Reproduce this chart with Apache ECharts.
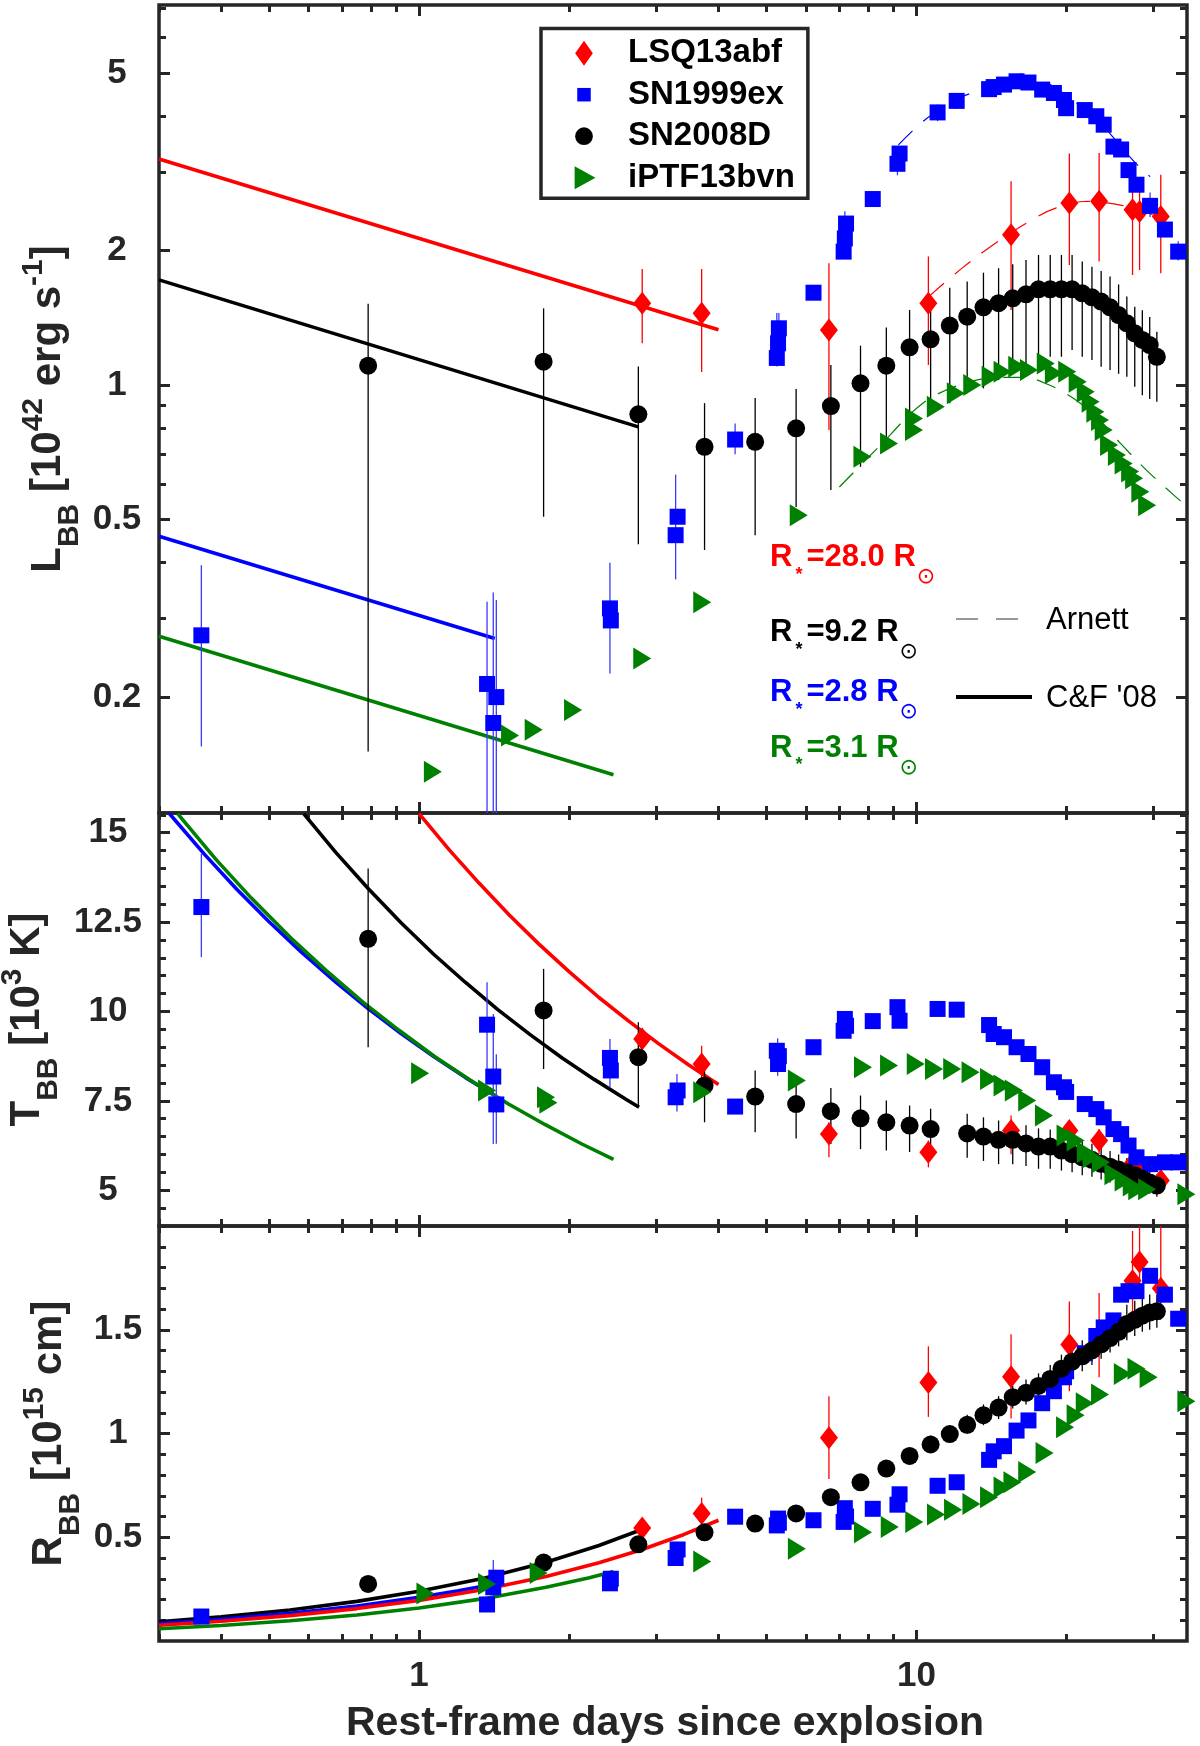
<!DOCTYPE html>
<html><head><meta charset="utf-8">
<script src="https://cdn.jsdelivr.net/npm/echarts@6/dist/echarts.min.js"></script>
<style>html,body{margin:0;padding:0;background:#fff}#c{width:1200px;height:1746px}</style>
</head><body><div id="c"></div>
<script>
// ---------------- tick values ----------------
const xMajorTicks = [1, 10];
const xMinorTicks = [0.3, 0.4, 0.5, 0.6, 0.7, 0.8, 0.9, 2, 3, 4, 5, 6, 7, 8, 9, 20, 30];
const lumMajorTicks = [0.2, 0.5, 1, 2, 5];
const lumMinorTicks = [0.3, 0.4, 0.6, 0.7, 0.8, 0.9, 3, 4, 6, 7];
const tempMajorTicks = [5, 7.5, 10, 12.5, 15];
const tempMinorTicks = [4, 4.5, 5.5, 6, 6.5, 7, 8, 8.5, 9, 9.5, 10.5, 11, 11.5, 12, 13, 13.5, 14, 14.5, 15.5];
const radMajorTicks = [0.5, 1, 1.5];
const radMinorTicks = [0.1, 0.2, 0.3, 0.4, 0.6, 0.7, 0.8, 0.9, 1.1, 1.2, 1.3, 1.4, 1.6, 1.7, 1.8, 1.9];

// ---------------- LSQ13abf ----------------
const lsqDays = [2.81, 3.70, 6.67, 10.57, 15.5, 20.3, 23.3, 27.2, 28.1, 31.0];
const lsqL   = [1.525, 1.448, 1.328, 1.525, 2.17, 2.556, 2.58, 2.47, 2.446, 2.385];
const lsqLlo = [1.24, 1.07, 0.793, 1.109, 1.473, 1.858, 1.89, 1.764, 1.81, 1.78];
const lsqLhi = [1.82, 1.82, 1.874, 1.941, 2.86, 3.30, 3.31, 2.91, 2.75, 2.96];
const lsqT   = [9.23, 8.53, 6.57, 6.06, 6.67, 6.67, 6.39, 5.75, 5.69, 5.27];
const lsqTlo = [8.95, 7.97, 5.92, 5.64, 6.01, 6.20, 6.01, 5.45, 5.40, 5.00];
const lsqThi = [9.46, 9.04, 6.90, 6.39, 7.09, 6.95, 6.71, 6.05, 6.00, 5.55];
const lsqR   = [0.544, 0.615, 0.980, 1.246, 1.274, 1.429, 1.462, 1.736, 1.827, 1.70];
const lsqRlo = [0.49, 0.54, 0.781, 1.08, 1.072, 1.204, 1.271, 1.50, 1.65, 1.55];
const lsqRhi = [0.59, 0.69, 1.18, 1.42, 1.478, 1.636, 1.677, 1.976, 2.0, 2.0];

// ---------------- SN1999ex ----------------
const sn99Days = [0.365, 1.37, 1.41, 1.43, 2.42, 2.43, 3.28, 3.31, 4.32, 5.24, 5.27, 5.29, 6.21, 7.14, 7.18, 7.22, 8.17, 9.16, 9.25, 11.03, 12.05, 14.0, 14.3, 15.0, 15.9, 16.8, 17.9, 18.9, 19.8, 20.0, 21.8, 23.0, 23.8, 24.9, 25.8, 26.7, 27.7, 29.5, 31.6, 33.6];
const sn99L = [0.275, 0.214, 0.175, 0.200, 0.316, 0.297, 0.461, 0.507, 0.755, 1.15, 1.24, 1.34, 1.61, 1.99, 2.13, 2.30, 2.61, 3.13, 3.30, 4.08, 4.33, 4.60, 4.65, 4.71, 4.79, 4.76, 4.59, 4.51, 4.35, 4.17, 4.13, 4.00, 3.83, 3.42, 3.37, 3.03, 2.81, 2.52, 2.23, 1.99];
const sn99T = [12.92, 9.63, 8.18, 7.40, 8.70, 8.35, 7.60, 7.79, 7.34, 8.90, 8.53, 8.75, 9.00, 9.46, 9.79, 9.60, 9.73, 10.12, 9.74, 10.07, 10.05, 9.62, 9.37, 9.28, 9.00, 8.81, 8.44, 8.02, 7.88, 7.75, 7.41, 7.27, 7.04, 6.71, 6.57, 6.25, 5.92, 5.73, 5.78, 5.78];
const sn99R = [0.118, 0.176, 0.259, 0.305, 0.278, 0.30, 0.40, 0.441, 0.599, 0.557, 0.59, 0.57, 0.582, 0.574, 0.64, 0.60, 0.637, 0.657, 0.707, 0.748, 0.765, 0.873, 0.914, 0.939, 1.014, 1.063, 1.146, 1.204, 1.271, 1.30, 1.387, 1.470, 1.511, 1.545, 1.669, 1.686, 1.686, 1.76, 1.669, 1.553];
const sn99LerrDays = [0.365, 1.37, 1.41, 1.43, 2.42, 3.28, 4.32, 5.24, 5.29, 7.18, 9.16, 11.03, 12.05, 16.2, 29.5, 33.6];
const sn99Llo = [0.155, 0.10, 0.10, 0.10, 0.226, 0.367, 0.70, 1.10, 1.25, 1.95, 2.95, 3.90, 4.15, 4.60, 2.38, 1.90];
const sn99Lhi = [0.395, 0.327, 0.343, 0.33, 0.40, 0.63, 0.82, 1.45, 1.45, 2.45, 3.35, 4.25, 4.50, 5.00, 2.70, 2.10];
const sn99TerrDays = [0.365, 1.37, 1.41, 1.43, 2.42, 3.30, 5.26];
const sn99Tlo = [11.52, 8.40, 6.29, 6.30, 7.88, 7.20, 8.20];
const sn99Thi = [14.41, 10.82, 9.93, 8.80, 9.23, 8.25, 9.25];
const sn99RerrDays = [1.41, 3.31, 5.27];
const sn99Rlo = [0.17, 0.38, 0.55];
const sn99Rhi = [0.39, 0.47, 0.61];

// ---------------- SN2008D ----------------
const sn08Days = [0.79, 1.78, 2.76, 3.75, 4.74, 5.73, 6.73, 7.72, 8.70, 9.69, 10.68, 11.67, 12.65, 13.64, 14.63, 15.62, 16.61, 17.60, 18.58, 19.57, 20.56, 21.55, 22.54, 23.52, 24.51, 25.50, 26.49, 27.48, 28.46, 29.45, 30.44];
const sn08L   = [1.105, 1.128, 0.86, 0.727, 0.746, 0.80, 0.897, 1.009, 1.105, 1.215, 1.266, 1.359, 1.423, 1.493, 1.525, 1.564, 1.597, 1.638, 1.638, 1.638, 1.638, 1.605, 1.572, 1.538, 1.493, 1.435, 1.375, 1.306, 1.262, 1.229, 1.157];
const sn08Llo = [0.151, 0.507, 0.44, 0.427, 0.461, 0.533, 0.582, 0.656, 0.715, 0.779, 0.857, 0.91, 0.958, 0.983, 1.026, 1.062, 1.099, 1.138, 1.157, 1.157, 1.198, 1.157, 1.138, 1.099, 1.08, 1.06, 1.043, 0.991, 0.949, 0.93, 0.917];
const sn08Lhi = [1.52, 1.485, 1.10, 0.911, 0.935, 0.98, 1.109, 1.225, 1.345, 1.473, 1.538, 1.652, 1.705, 1.785, 1.827, 1.865, 1.906, 1.956, 1.956, 1.956, 1.956, 1.89, 1.84, 1.80, 1.75, 1.68, 1.578, 1.498, 1.47, 1.42, 1.316];
const sn08T   = [12.03, 10.03, 8.72, 7.93, 7.62, 7.41, 7.21, 7.01, 6.90, 6.81, 6.71, null, 6.59, 6.50, 6.41, 6.41, 6.31, 6.22, 6.22, 6.11, 6.01, 5.92, 5.85, 5.74, 5.66, 5.58, 5.50, 5.42, 5.32, 5.22, 5.13];
const sn08Tlo = [9.0, 8.39, 7.37, 6.90, 6.62, 6.45, 6.29, 6.15, 6.11, 6.07, 5.93, null, 5.91, 5.82, 5.73, 5.73, 5.68, 5.60, 5.60, 5.55, 5.50, 5.42, 5.38, 5.30, 5.22, 5.15, 5.10, 5.05, 4.95, 4.90, 4.82];
const sn08Thi = [14.0, 11.19, 9.70, 8.72, 8.35, 8.20, 7.86, 7.65, 7.51, 7.37, 7.28, null, 7.14, 7.04, 6.95, 6.91, 6.82, 6.73, 6.70, 6.60, 6.50, 6.40, 6.30, 6.20, 6.10, 6.00, 5.90, 5.80, 5.70, 5.55, 5.45];
const sn08R   = [0.275, 0.378, 0.466, 0.524, 0.566, 0.615, 0.693, 0.765, 0.831, 0.892, 0.947, 0.997, 1.042, 1.088, 1.125, 1.175, 1.196, 1.229, 1.263, 1.312, 1.346, 1.372, 1.40, 1.43, 1.46, 1.49, 1.528, 1.548, 1.568, 1.583, 1.589];
const sn08Rlo = [0.26, 0.365, 0.45, 0.505, 0.545, 0.595, 0.67, 0.74, 0.80, 0.86, 0.91, 0.96, 1.0, 1.04, 1.07, 1.12, 1.14, 1.17, 1.2, 1.25, 1.28, 1.3, 1.33, 1.36, 1.39, 1.42, 1.45, 1.47, 1.49, 1.5, 1.51];
const sn08Rhi = [0.29, 0.392, 0.485, 0.545, 0.59, 0.64, 0.72, 0.79, 0.865, 0.93, 0.99, 1.04, 1.09, 1.14, 1.18, 1.23, 1.26, 1.29, 1.33, 1.38, 1.42, 1.45, 1.48, 1.51, 1.55, 1.58, 1.62, 1.64, 1.66, 1.67, 1.67];

// ---------------- iPTF13bvn ----------------
const ptfDaysL = [1.066, 1.524, 1.70, 2.04, 2.81, 3.71, 5.80, 7.79, 8.81, 9.89, 9.89, 10.94, 12.0, 12.95, 14.1, 14.9, 15.95, 16.84, 18.2, 18.9, 20.1, 21.1, 21.9, 22.4, 22.9, 23.4, 23.8, 24.4, 25.3, 26.1, 26.9, 27.4, 28.2, 29.1];
const ptfL = [0.136, 0.164, 0.169, 0.187, 0.244, 0.326, 0.511, 0.691, 0.740, 0.793, 0.842, 0.894, 0.958, 1.0, 1.044, 1.071, 1.099, 1.08, 1.118, 1.062, 1.071, 1.017, 0.966, 0.917, 0.871, 0.835, 0.793, 0.734, 0.697, 0.667, 0.64, 0.618, 0.577, 0.538];
const ptfDaysT = [1.005, 1.37, 1.80, 1.82, 3.71, 5.75, 7.81, 8.81, 9.97, 10.85, 11.8, 12.85, 14.0, 14.9, 15.7, 16.7, 18.05, 19.95, 20.9, 21.9, 22.5, 23.5, 24.9, 26.1, 27.1, 27.8, 29.1, 34.9];
const ptfT = [8.27, 7.79, 7.60, 7.45, 7.74, 8.07, 8.44, 8.49, 8.53, 8.39, 8.39, 8.30, 8.11, 7.93, 7.79, 7.51, 7.09, 6.53, 6.39, 6.06, 5.92, 5.78, 5.45, 5.27, 5.13, 5.03, 5.03, 4.89];
const ptfDaysR = [1.03, 1.37, 1.74, 3.71, 5.75, 7.81, 8.84, 9.9, 10.95, 11.85, 12.9, 14.0, 14.9, 15.6, 16.7, 18.1, 19.9, 20.9, 21.8, 23.4, 26.0, 27.7, 29.3, 34.9];
const ptfR = [0.229, 0.275, 0.328, 0.383, 0.444, 0.524, 0.549, 0.574, 0.610, 0.632, 0.660, 0.693, 0.740, 0.765, 0.815, 0.906, 1.030, 1.088, 1.146, 1.188, 1.287, 1.312, 1.271, 1.155];

// ---------------- Arnett model curves (luminosity) ----------------
const arnBlueDays = [9.2, 10.5, 12.4, 13.6, 15, 16.5, 18, 19.5, 21.2, 23, 24.6, 26.5, 28, 29.5];
const arnBlueL    = [3.45, 3.96, 4.43, 4.58, 4.75, 4.83, 4.78, 4.55, 4.24, 3.95, 3.64, 3.30, 3.09, 2.93];
const arnRedDays  = [10.6, 12.37, 14.25, 16.8, 19.05, 22.2, 25.7, 28.5, 31.7];
const arnRedL     = [1.58, 1.83, 2.06, 2.32, 2.49, 2.58, 2.53, 2.45, 2.34];
const arnGreenDays = [7.0, 8.4, 10.3, 12.2, 14.5, 16.5, 18.5, 20.5, 23, 25.7, 29, 33.1, 35];
const arnGreenL    = [0.591, 0.727, 0.91, 1.0, 1.04, 1.04, 1.0, 0.94, 0.85, 0.741, 0.645, 0.564, 0.535];

// ---------------- C&F '08 cooling curves ----------------
const cfRedLDays = [0.3, 4.0],   cfRedL = [3.21, 1.33];
const cfBlackLDays = [0.3, 2.76], cfBlackL = [1.72, 0.806];
const cfBlueLDays = [0.3, 1.42],  cfBlueL = [0.4585, 0.2705];
const cfGreenLDays = [0.3, 2.46], cfGreenL = [0.2736, 0.134];

const cfRedTDays = [1.0, 1.15, 1.32, 1.52, 1.74, 2.0, 2.3, 2.64, 3.03, 3.48, 4.0];
const cfRedT     = [15.53, 14.52, 13.59, 12.69, 11.89, 11.12, 10.39, 9.73, 9.10, 8.51, 7.96];
const cfBlackTDays = [0.586, 0.68, 0.79, 0.92, 1.07, 1.24, 1.44, 1.67, 1.94, 2.25, 2.6, 2.77];
const cfBlackT     = [15.53, 14.45, 13.44, 12.48, 11.60, 10.81, 10.05, 9.36, 8.70, 8.10, 7.55, 7.32];
const cfBlueTDays = [0.315, 0.37, 0.43, 0.5, 0.58, 0.68, 0.79, 0.92, 1.07, 1.24, 1.42];
const cfBlueT     = [15.53, 14.40, 13.42, 12.50, 11.66, 10.82, 10.08, 9.38, 8.74, 8.15, 7.65];
const cfGreenTDays = [0.327, 0.39, 0.46, 0.55, 0.65, 0.77, 0.91, 1.08, 1.28, 1.51, 1.79, 2.12, 2.46];
const cfGreenT     = [15.53, 14.26, 13.17, 12.08, 11.15, 10.27, 9.48, 8.72, 8.04, 7.42, 6.84, 6.30, 5.86];

const cfBlackRDays = [0.3, 0.4, 0.55, 0.75, 1.0, 1.35, 1.8, 2.3, 2.77];
const cfBlackR     = [0.093, 0.1166, 0.1497, 0.1909, 0.2393, 0.3029, 0.3796, 0.4602, 0.5324];
const cfBlueRDays = [0.3, 0.4, 0.55, 0.75, 1.0, 1.2, 1.42];
const cfBlueR     = [0.084, 0.1046, 0.1334, 0.1690, 0.2105, 0.2419, 0.2751];
const cfRedRDays = [0.3, 0.4, 0.55, 0.75, 1.0, 1.35, 1.8, 2.3, 2.8, 3.4, 4.0];
const cfRedR     = [0.076, 0.0953, 0.1224, 0.1562, 0.1958, 0.2479, 0.3108, 0.3768, 0.4398, 0.5123, 0.5821];
const cfGreenRDays = [0.3, 0.4, 0.55, 0.75, 1.0, 1.35, 1.8, 2.2, 2.46];
const cfGreenR     = [0.059, 0.0748, 0.0973, 0.1256, 0.1593, 0.2041, 0.2587, 0.3053, 0.3348];

// ---------------- build ----------------
const FF = "'Liberation Sans', Arial, Helvetica, sans-serif";
const AX = '#262626';
const C = {red: '#ff0000', blue: '#0000ff', black: '#000000', green: '#008000'};
const lg = Math.log10;
const fmt = v => String(parseFloat(v.toPrecision(6)));
const X_MIN = 0.3, X_MAX = 35;
const YR = [[0.11, 7.1], [4, 15.55], [0, 2]];
const isLogY = [true, false, false];

const grids = [
  {left: 159, top: 5, width: 1028, height: 808},
  {left: 159, top: 813, width: 1028, height: 413},
  {left: 159, top: 1226, width: 1028, height: 415}
].map(g => Object.assign(g, {show: true, borderColor: AX, borderWidth: 3.5, backgroundColor: 'transparent', containLabel: false, outerBoundsMode: 'none'}));

const xAxes = [], yAxes = [];
const DX = [], DY = [];
const tickLine = {color: AX, width: 3};
const labelBase = {show: true, fontSize: 35, fontWeight: 'bold', color: AX, fontFamily: FF};

function tickAxis(list, g, pos, min, max, ticks, len, extra) {
  const ax = Object.assign({
    type: 'value', gridIndex: g, position: pos, min: min, max: max,
    axisLine: {show: false, onZero: false},
    splitLine: {show: false}, splitArea: {show: false},
    minorTick: {show: false}, minorSplitLine: {show: false},
    axisTick: {show: true, inside: true, length: len, customValues: ticks, lineStyle: tickLine},
    axisLabel: {show: false},
    nameMoveOverlap: false, silent: true
  }, extra || {});
  list.push(ax);
  return list.length - 1;
}

const yNames = [
  '{m|L}{s|BB}{m| [10}{p|42}{m| erg s}{p|-1}{m|]}',
  '{m|T}{s|BB}{m| [10}{p|3}{m| K]}',
  '{m|R}{s|BB}{m| [10}{p|15}{m| cm]}'
];
const yNameGap = [74, 95, 73];
const yLabelMargin = [42, 51, 41];
const nameRich = {
  m: {fontSize: 42, fontWeight: 'bold', fontFamily: FF, color: AX, verticalAlign: 'top', padding: [8, 0, 0, 0]},
  s: {fontSize: 30, fontWeight: 'bold', fontFamily: FF, color: AX, verticalAlign: 'top', padding: [36, 0, 0, 0]},
  p: {fontSize: 30, fontWeight: 'bold', fontFamily: FF, color: AX, verticalAlign: 'top', padding: [0, 0, 0, 0]}
};

const yMajor = [lumMajorTicks, tempMajorTicks, radMajorTicks];
const yMinor = [lumMinorTicks, tempMinorTicks, radMinorTicks];

for (let g = 0; g < 3; g++) {
  xAxes.push({type: 'log', logBase: 10, gridIndex: g, min: X_MIN, max: X_MAX, show: false, axisLine: {onZero: false}, splitLine: {show: false}});
  DX[g] = xAxes.length - 1;
  const yr = YR[g];
  if (isLogY[g]) {
    yAxes.push({type: 'log', logBase: 10, gridIndex: g, min: yr[0], max: yr[1], show: false, axisLine: {onZero: false}, splitLine: {show: false}});
  } else {
    yAxes.push({type: 'value', gridIndex: g, min: yr[0], max: yr[1], show: false, axisLine: {onZero: false}, splitLine: {show: false}});
  }
  DY[g] = yAxes.length - 1;

  const xmn = lg(X_MIN), xmx = lg(X_MAX);
  tickAxis(xAxes, g, 'bottom', xmn, xmx, xMajorTicks.map(lg), 11, g === 2 ? {
    axisLabel: Object.assign({}, labelBase, {customValues: xMajorTicks.map(lg), formatter: v => fmt(Math.pow(10, v)), margin: 18})
  } : null);
  tickAxis(xAxes, g, 'bottom', xmn, xmx, xMinorTicks.map(lg), 7, g === 2 ? {
    name: 'Rest-frame days since explosion', nameLocation: 'middle', nameGap: 62,
    nameTextStyle: {fontSize: 41, fontWeight: 'bold', color: AX, fontFamily: FF, padding: [0, 16, 0, 0]}
  } : null);
  tickAxis(xAxes, g, 'top', xmn, xmx, xMajorTicks.map(lg), 11);
  tickAxis(xAxes, g, 'top', xmn, xmx, xMinorTicks.map(lg), 7);

  const tr = isLogY[g] ? (a => a.map(lg)) : (a => a.slice());
  const ymn = isLogY[g] ? lg(yr[0]) : yr[0];
  const ymx = isLogY[g] ? lg(yr[1]) : yr[1];
  const lblFmt = isLogY[g] ? (v => fmt(Math.pow(10, v))) : (v => fmt(v));
  tickAxis(yAxes, g, 'left', ymn, ymx, tr(yMajor[g]), 11, {
    axisLabel: Object.assign({}, labelBase, {customValues: tr(yMajor[g]), formatter: lblFmt, align: 'center', verticalAlign: 'middle', margin: yLabelMargin[g]})
  });
  tickAxis(yAxes, g, 'left', ymn, ymx, tr(yMinor[g]), 7, {
    name: yNames[g], nameLocation: 'middle', nameRotate: 90, nameGap: yNameGap[g],
    nameTextStyle: {fontFamily: FF, color: AX, rich: nameRich}
  });
  tickAxis(yAxes, g, 'right', ymn, ymx, tr(yMajor[g]), 11);
  tickAxis(yAxes, g, 'right', ymn, ymx, tr(yMinor[g]), 7);
}

function pairs(xs, ys) {
  const out = [];
  xs.forEach((x, i) => { if (ys[i] != null) out.push([x, ys[i]]); });
  return out;
}
function errRender(params, api) {
  const x = api.value(0);
  const a = api.coord([x, api.value(1)]);
  const b = api.coord([x, api.value(2)]);
  return {type: 'line', shape: {x1: a[0], y1: a[1], x2: b[0], y2: b[1]},
          style: {stroke: api.visual('color'), lineWidth: 1.3}};
}
const series = [];
function addLine(g, xs, ys, color, width, dash, smooth) {
  series.push({type: 'line', xAxisIndex: DX[g], yAxisIndex: DY[g], data: pairs(xs, ys),
    showSymbol: false, symbol: 'none', smooth: smooth ? 0.35 : false, clip: true, z: 1, silent: true,
    lineStyle: {color: color, width: width, type: dash || 'solid'}, itemStyle: {color: color}});
}
function addErr(g, name, xs, lo, hi, color) {
  const data = [];
  xs.forEach((x, i) => { if (lo[i] != null && hi[i] != null) data.push([x, lo[i], hi[i]]); });
  series.push({type: 'custom', name: name + ' errors', xAxisIndex: DX[g], yAxisIndex: DY[g], data: data,
    renderItem: errRender, clip: true, z: 2, silent: true, itemStyle: {color: color}, encode: {x: 0, y: [1, 2]}});
}
const MK = {
  lsq: {symbol: 'diamond', symbolSize: [18, 23], color: C.red, name: 'LSQ13abf'},
  sn99: {symbol: 'rect', symbolSize: [16, 16], color: C.blue, name: 'SN1999ex'},
  sn08: {symbol: 'circle', symbolSize: [18, 18], color: C.black, name: 'SN2008D'},
  ptf: {symbol: 'path://M0,0L18,11L0,22Z', symbolSize: [18, 22], color: C.green, name: 'iPTF13bvn'}
};
function addScatter(g, mk, xs, ys) {
  series.push({type: 'scatter', name: mk.name, xAxisIndex: DX[g], yAxisIndex: DY[g], data: pairs(xs, ys),
    symbol: mk.symbol, symbolSize: mk.symbolSize, itemStyle: {color: mk.color, opacity: 1}, z: 3, silent: true, clip: true});
}

const DASH = [20, 14];
// ---- panel 0: luminosity ----
addLine(0, cfRedLDays, cfRedL, C.red, 3.6);
addLine(0, cfBlackLDays, cfBlackL, C.black, 3.6);
addLine(0, cfBlueLDays, cfBlueL, C.blue, 3.6);
addLine(0, cfGreenLDays, cfGreenL, C.green, 3.6);
addLine(0, arnBlueDays, arnBlueL, C.blue, 1.2, DASH, true);
addLine(0, arnRedDays, arnRedL, C.red, 1.2, DASH, true);
addLine(0, arnGreenDays, arnGreenL, C.green, 1.2, DASH, true);
addErr(0, 'LSQ13abf', lsqDays, lsqLlo, lsqLhi, C.red);
addErr(0, 'SN1999ex', sn99LerrDays, sn99Llo, sn99Lhi, '#3a3aff');
addErr(0, 'SN2008D', sn08Days, sn08Llo, sn08Lhi, C.black);
addScatter(0, MK.lsq, lsqDays, lsqL);
addScatter(0, MK.sn99, sn99Days, sn99L);
addScatter(0, MK.sn08, sn08Days, sn08L);
addScatter(0, MK.ptf, ptfDaysL, ptfL);
// ---- panel 1: temperature ----
addLine(1, cfRedTDays, cfRedT, C.red, 3.6);
addLine(1, cfBlackTDays, cfBlackT, C.black, 3.6);
addLine(1, cfBlueTDays, cfBlueT, C.blue, 3.6);
addLine(1, cfGreenTDays, cfGreenT, C.green, 3.6);
addErr(1, 'LSQ13abf', lsqDays, lsqTlo, lsqThi, C.red);
addErr(1, 'SN1999ex', sn99TerrDays, sn99Tlo, sn99Thi, '#3a3aff');
addErr(1, 'SN2008D', sn08Days, sn08Tlo, sn08Thi, C.black);
addScatter(1, MK.lsq, lsqDays, lsqT);
addScatter(1, MK.sn99, sn99Days, sn99T);
addScatter(1, MK.sn08, sn08Days, sn08T);
addScatter(1, MK.ptf, ptfDaysT, ptfT);
// ---- panel 2: radius ----
addLine(2, cfBlackRDays, cfBlackR, C.black, 3.6);
addLine(2, cfBlueRDays, cfBlueR, C.blue, 3.6);
addLine(2, cfRedRDays, cfRedR, C.red, 3.6);
addLine(2, cfGreenRDays, cfGreenR, C.green, 3.6);
addErr(2, 'LSQ13abf', lsqDays, lsqRlo, lsqRhi, C.red);
addErr(2, 'SN1999ex', sn99RerrDays, sn99Rlo, sn99Rhi, '#3a3aff');
addErr(2, 'SN2008D', sn08Days, sn08Rlo, sn08Rhi, C.black);
addScatter(2, MK.lsq, lsqDays, lsqR);
addScatter(2, MK.sn99, sn99Days, sn99R);
addScatter(2, MK.sn08, sn08Days, sn08R);
addScatter(2, MK.ptf, ptfDaysR, ptfR);

const ICON = {
  diamond: 'path://M-12.5,-12.5M12.5,12.5M0,-12L8.5,0L0,12L-8.5,0Z',
  square: 'path://M-12.5,-12.5M12.5,12.5M-6.5,-6.5L6.5,-6.5L6.5,6.5L-6.5,6.5Z',
  circle: 'path://M-12.5,-12.5M12.5,12.5M8.5,0A8.5,8.5,0,1,1,-8.5,0A8.5,8.5,0,1,1,8.5,0Z',
  tri: 'path://M-12.5,-12.5M12.5,12.5M-9,-11L11,0L-9,11Z'
};

function rRich(col) {
  return {
    m: {fontSize: 31, fontWeight: 'bold', fontFamily: FF, fill: col, color: col, verticalAlign: 'top'},
    a: {fontSize: 18, fontWeight: 'bold', fontFamily: FF, fill: col, color: col, verticalAlign: 'top', padding: [23.5, 4, 0, 3]},
    o: {fontSize: 22, fontFamily: "'DejaVu Sans', sans-serif", fill: col, color: col, verticalAlign: 'top', padding: [24, 0, 0, 1]}
  };
}
const radiusLabels = [
  {text: '{m|R}{a|*}{m|=28.0 R}{o|⊙}', color: C.red, y: 542.4},
  {text: '{m|R}{a|*}{m|=9.2 R}{o|⊙}', color: C.black, y: 617.4},
  {text: '{m|R}{a|*}{m|=2.8 R}{o|⊙}', color: C.blue, y: 677.4},
  {text: '{m|R}{a|*}{m|=3.1 R}{o|⊙}', color: C.green, y: 733}
];
const graphics = radiusLabels.map(r => ({
  type: 'text', x: 770, y: r.y, z: 50, silent: true,
  style: {text: r.text, rich: rRich(r.color), align: 'left', verticalAlign: 'top', fill: r.color}
}));
graphics.push(
  {type: 'line', z: 50, silent: true, shape: {x1: 956, y1: 619, x2: 1032, y2: 619}, style: {stroke: '#333', lineWidth: 1.2, lineDash: [22, 18]}},
  {type: 'text', z: 50, silent: true, x: 1046, y: 620, style: {text: 'Arnett', fontSize: 31, fontFamily: FF, fill: '#000', align: 'left', verticalAlign: 'middle'}},
  {type: 'line', z: 50, silent: true, shape: {x1: 956, y1: 697, x2: 1032, y2: 697}, style: {stroke: '#000', lineWidth: 4}},
  {type: 'text', z: 50, silent: true, x: 1046, y: 698, style: {text: "C&F '08", fontSize: 31, fontFamily: FF, fill: '#000', align: 'left', verticalAlign: 'middle'}}
);

const option = {
  animation: false,
  backgroundColor: '#ffffff',
  textStyle: {fontFamily: FF},
  grid: grids,
  xAxis: xAxes,
  yAxis: yAxes,
  legend: {
    show: true, orient: 'vertical', left: 541, top: 28.5,
    itemWidth: 78, itemHeight: 26, itemGap: 8.5,
    padding: [8.2, 13, 4, 30],
    backgroundColor: '#ffffff', borderColor: AX, borderWidth: 3.5, borderRadius: 0,
    selectedMode: false,
    textStyle: {fontSize: 33, fontWeight: 'bold', color: '#000', fontFamily: FF, lineHeight: 30},
    data: [
      {name: 'LSQ13abf', icon: ICON.diamond},
      {name: 'SN1999ex', icon: ICON.square},
      {name: 'SN2008D', icon: ICON.circle},
      {name: 'iPTF13bvn', icon: ICON.tri}
    ]
  },
  graphic: graphics,
  series: series
};
const chart = echarts.init(document.getElementById('c'), null, {renderer: 'canvas', width: 1200, height: 1746});
chart.setOption(option);
</script>
</body></html>
